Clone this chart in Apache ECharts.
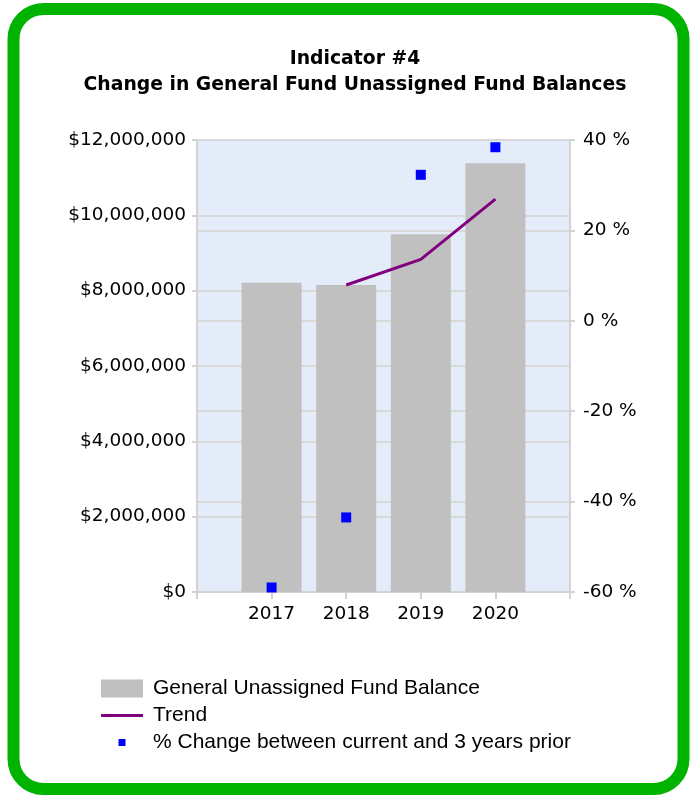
<!DOCTYPE html>
<html>
<head>
<meta charset="utf-8">
<title>Indicator #4</title>
<script src="https://cdn.jsdelivr.net/npm/echarts@6/dist/echarts.min.js"></script>
<style>
  html, body { margin: 0; padding: 0; background: #fff; }
  #chart { width: 692px; height: 796px; }
</style>
</head>
<body>
<div id="chart"></div>
<script>
// categories (blank slots at both ends so the years sit between the axes)
const years = ['', '2017', '2018', '2019', '2020', '']
// General Unassigned Fund Balance ($)
const balance = [null, 8210000, 8150000, 9500000, 11380000, null]
// Trend ($)
const trend = [null, null, 8150000, 8830000, 10430000, null]
// % change between current and 3 years prior
const pctChange = [null, -59, -43.5, 32.3, 38.4, null]

const leftTicks = { min: 0, max: 12000000, interval: 2000000 }
const rightTicks = { min: -60, max: 40, interval: 20 }

const names = [
  'General Unassigned Fund Balance',
  'Trend',
  '% Change between current and 3 years prior'
]

const chart = echarts.init(document.getElementById('chart'))

const gridLine = { show: true, lineStyle: { color: '#D9D9D9', width: 2 } }
const axisGray = { show: true, lineStyle: { color: '#D3D3D3', width: 2 } }
const labelFont = { fontFamily: 'DejaVu Sans', fontSize: 18.5, color: '#000' }

chart.setOption({
  animation: false,
  graphic: [
    {
      type: 'rect',
      z: -10,
      shape: { x: 13.5, y: 9, width: 670, height: 780, r: 30 },
      style: { fill: '#fff', stroke: '#00B300', lineWidth: 12 }
    }
  ],
  title: {
    text: 'Indicator #4\nChange in General Fund Unassigned Fund Balances',
    left: 350,
    top: 41,
    textAlign: 'center',
    textStyle: {
      fontFamily: 'DejaVu Sans',
      fontWeight: 'bold',
      fontSize: 18.8,
      lineHeight: 26,
      color: '#000'
    }
  },
  grid: {
    left: 197,
    right: 122,
    top: 140,
    bottom: 204,
    show: true,
    backgroundColor: '#E4ECFA',
    borderWidth: 0
  },
  legend: {
    orient: 'vertical',
    left: 101,
    top: 678,
    padding: 0,
    itemWidth: 42,
    itemHeight: 18,
    itemGap: 6,
    textStyle: { fontFamily: 'Liberation Sans', fontSize: 21, color: '#000', padding: [0, 0, 0, 5] },
    data: [
      { name: names[0], icon: 'rect' },
      { name: names[1], icon: 'path://M0,0M42,18M0,7.5h42v3h-42z' },
      { name: names[2], icon: 'path://M0,0M42,18M17.5,5.5h7v7h-7z' }
    ]
  },
  xAxis: {
    type: 'category',
    data: years,
    boundaryGap: false,
    axisLine: axisGray,
    axisTick: { show: true, length: 7, lineStyle: { color: '#D3D3D3', width: 2 } },
    axisLabel: Object.assign({ margin: 13 }, labelFont),
    splitLine: { show: false }
  },
  yAxis: [
    {
      type: 'value',
      position: 'left',
      min: leftTicks.min,
      max: leftTicks.max,
      interval: leftTicks.interval,
      axisLine: axisGray,
      axisTick: { show: true, length: 5, lineStyle: { color: '#D3D3D3', width: 2 } },
      axisLabel: Object.assign({
        margin: 11,
        formatter: v => '$' + v.toLocaleString('en-US')
      }, labelFont),
      splitLine: gridLine
    },
    {
      type: 'value',
      position: 'right',
      min: rightTicks.min,
      max: rightTicks.max,
      interval: rightTicks.interval,
      axisLine: axisGray,
      axisTick: { show: true, length: 5, lineStyle: { color: '#D3D3D3', width: 2 } },
      axisLabel: Object.assign({
        margin: 13,
        formatter: v => v + ' %'
      }, labelFont),
      splitLine: gridLine
    }
  ],
  series: [
    {
      name: names[0],
      type: 'bar',
      data: balance,
      barWidth: 60,
      yAxisIndex: 0,
      itemStyle: { color: '#C0C0C0' }
    },
    {
      name: names[1],
      type: 'line',
      data: trend,
      yAxisIndex: 0,
      symbol: 'none',
      lineStyle: { color: '#800080', width: 3 },
      itemStyle: { color: '#800080' }
    },
    {
      name: names[2],
      type: 'scatter',
      data: pctChange,
      yAxisIndex: 1,
      symbol: 'rect',
      symbolSize: 10,
      itemStyle: { color: '#0000FF', opacity: 1 },
      z: 5
    }
  ]
})
</script>
</body>
</html>
